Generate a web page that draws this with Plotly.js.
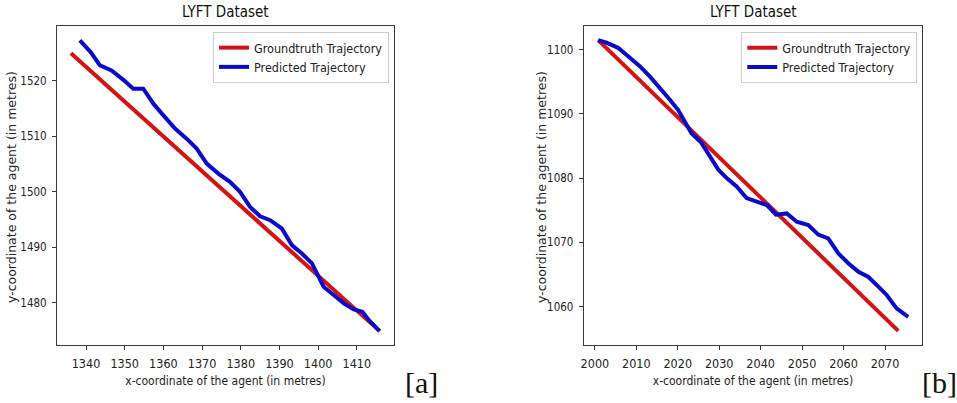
<!DOCTYPE html>
<html>
<head>
<meta charset="utf-8">
<script src="https://cdn.plot.ly/plotly-3.0.1.min.js"></script>
<style>
  html, body { margin: 0; padding: 0; background: #fff; }
  #chart { width: 957px; height: 403px; }
</style>
</head>
<body>
<div id="chart"></div>
<script>
// Panel [a]: groundtruth vs predicted agent trajectory
const gtXa = [1336.1, 1415.9];
const gtYa = [1525.0, 1474.9];
const predXa = [1338.4, 1341.2, 1343.6, 1346.6, 1349.8, 1352.2, 1354.8, 1357.4, 1360.0, 1363.0,
                1366.0, 1368.6, 1371.2, 1374.2, 1377.2, 1379.8, 1382.4, 1385.0, 1387.6, 1390.6,
                1393.2, 1395.8, 1398.4, 1400.1, 1401.4, 1404.0, 1406.6, 1409.2, 1411.4, 1413.1, 1415.9];
const predYa = [1527.3, 1525.2, 1522.8, 1521.9, 1520.1, 1518.6, 1518.6, 1515.9, 1513.8, 1511.4,
                1509.6, 1507.8, 1505.1, 1503.3, 1501.8, 1500.0, 1497.3, 1495.6, 1494.9, 1493.4,
                1490.4, 1488.9, 1487.1, 1484.7, 1482.9, 1481.4, 1479.9, 1478.8, 1478.4, 1476.9, 1474.9];

// Panel [b]
const gtXb = [2000.8, 2073.2];
const gtYb = [1101.5, 1056.2];
const predXb = [2000.8, 2002.8, 2005.6, 2008.0, 2010.9, 2013.3, 2016.1, 2018.1, 2020.1, 2021.3,
                2023.3, 2025.7, 2027.8, 2029.8, 2031.8, 2034.2, 2036.6, 2039.0, 2041.5, 2043.7,
                2046.3, 2048.7, 2051.5, 2053.9, 2056.3, 2058.7, 2061.2, 2063.6, 2066.0, 2068.4,
                2070.4, 2072.8, 2075.6];
const predYb = [1101.5, 1101.1, 1100.3, 1099.0, 1097.4, 1095.8, 1093.8, 1092.2, 1090.6, 1089.3,
                1087.0, 1085.5, 1083.4, 1081.3, 1080.0, 1078.7, 1076.9, 1076.3, 1075.8, 1074.3,
                1074.5, 1073.2, 1072.7, 1071.2, 1070.6, 1068.3, 1066.7, 1065.4, 1064.6, 1063.1,
                1061.8, 1059.7, 1058.4];

const seriesNames = ['Groundtruth Trajectory', 'Predicted Trajectory'];
const panelTitle = 'LYFT Dataset';
const xTitle = 'x-coordinate of the agent (in metres)';
const yTitle = 'y-coordinate of the agent (in metres)';
const panelTags = ['[a]', '[b]'];

const RED = '#d41414';
const BLUE = '#0a0acc';
const NARROW = '"DejaVu Sans Condensed", "DejaVu Sans", sans-serif';
const AXIS_COL = '#3a3a3a';

function line(x, y, name, color, xa, ya, legend) {
  return { type: 'scatter', mode: 'lines', x, y, name, xaxis: xa, yaxis: ya, legend,
           line: { color, width: 4 }, hoverinfo: 'skip' };
}

const traces = [
  line(gtXa, gtYa, seriesNames[0], RED, 'x', 'y', 'legend'),
  line(predXa, predYa, seriesNames[1], BLUE, 'x', 'y', 'legend'),
  line(gtXb, gtYb, seriesNames[0], RED, 'x2', 'y2', 'legend2'),
  line(predXb, predYb, seriesNames[1], BLUE, 'x2', 'y2', 'legend2'),
];

function xAxis(domain, range, anchor) {
  return {
    domain, range, anchor, dtick: 10, tick0: 0,
    showgrid: false, zeroline: false,
    showline: true, mirror: true, linecolor: AXIS_COL, linewidth: 1,
    ticks: 'outside', ticklen: 4, tickcolor: AXIS_COL, ticklabelstandoff: 3,
    tickfont: { family: NARROW, size: 12.5, color: '#222' },
    title: { text: xTitle, standoff: 6, font: { family: NARROW, size: 12, color: '#222' } }
  };
}
function yAxis(domain, range, anchor) {
  return {
    domain, range, anchor, dtick: 10, tick0: 0,
    showgrid: false, zeroline: false,
    showline: true, mirror: true, linecolor: AXIS_COL, linewidth: 1,
    ticks: 'outside', ticklen: 4, tickcolor: AXIS_COL, ticklabelstandoff: 3,
    tickfont: { family: NARROW, size: 11.5, color: '#222' }
  };
}

function legendBox(xRight) {
  return {
    x: xRight, xanchor: 'right', y: 1 - 32 / 403, yanchor: 'top',
    bgcolor: 'rgba(255,255,255,0.8)', bordercolor: '#cccccc', borderwidth: 1,
    font: { family: NARROW, size: 12.5, color: '#222' },
    tracegroupgap: 0, itemwidth: 30
  };
}

// rotated y-axis captions, placed beside each panel's tick labels
function yCaption(xPx) {
  return { text: yTitle, xref: 'paper', yref: 'paper', x: xPx / 957, y: 1 - 187 / 403,
           xanchor: 'center', yanchor: 'middle', textangle: -90, showarrow: false,
           font: { family: '"DejaVu Sans", sans-serif', size: 12.5, color: '#222' } };
}

const yDom = [1 - 345 / 403, 1 - 26 / 403];

const layout = {
  width: 957, height: 403,
  margin: { l: 0, r: 0, t: 0, b: 0 },
  paper_bgcolor: '#fff', plot_bgcolor: '#fff',
  showlegend: true,
  xaxis: xAxis([57 / 957, 394 / 957], [1332.5, 1419.6], 'y'),
  yaxis: yAxis(yDom, [1472.4, 1529.9], 'x'),
  xaxis2: xAxis([583.7 / 957, 922.3 / 957], [1997.3, 2079.0], 'y2'),
  yaxis2: yAxis(yDom, [1054.0, 1103.7], 'x2'),
  legend: legendBox(389 / 957),
  legend2: legendBox(917.3 / 957),
  annotations: [
    { text: panelTitle, xref: 'paper', yref: 'paper', x: 225.7 / 957, y: 1 - 12 / 403,
      xanchor: 'center', yanchor: 'middle', showarrow: false,
      font: { family: NARROW, size: 15, color: '#111' } },
    { text: panelTitle, xref: 'paper', yref: 'paper', x: 753 / 957, y: 1 - 12 / 403,
      xanchor: 'center', yanchor: 'middle', showarrow: false,
      font: { family: NARROW, size: 15, color: '#111' } },
    yCaption(11),
    yCaption(541),
    { text: panelTags[0], xref: 'paper', yref: 'paper', x: 421 / 957, y: 1 - 382 / 403,
      xanchor: 'center', yanchor: 'middle', showarrow: false,
      font: { family: '"Liberation Serif", "DejaVu Serif", serif', size: 30, color: '#111' } },
    { text: panelTags[1], xref: 'paper', yref: 'paper', x: 939 / 957, y: 1 - 382 / 403,
      xanchor: 'center', yanchor: 'middle', showarrow: false,
      font: { family: '"Liberation Serif", "DejaVu Serif", serif', size: 30, color: '#111' } }
  ]
};

Plotly.newPlot('chart', traces, layout, { staticPlot: true, displayModeBar: false });
</script>
</body>
</html>
